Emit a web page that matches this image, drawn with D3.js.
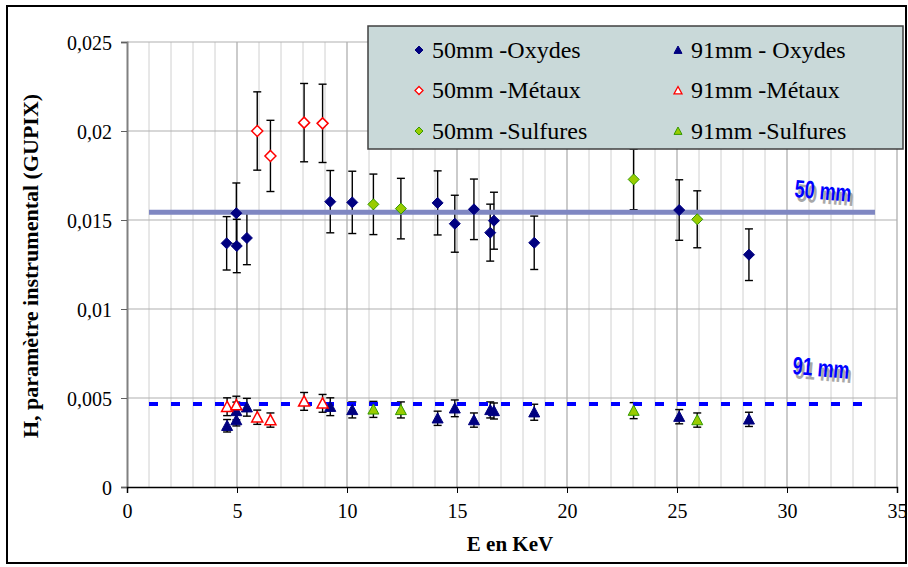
<!DOCTYPE html>
<html>
<head>
<meta charset="utf-8">
<script src="https://cdn.jsdelivr.net/npm/d3@7"></script>
</head>
<body style="margin:0">
<svg id="chart" width="908" height="567" font-family="Liberation Serif"></svg>
<script>
// ---------- data ----------
const xTicks = [0, 5, 10, 15, 20, 25, 30, 35];
const yTicks = [0, 0.005, 0.01, 0.015, 0.02, 0.025];
const yTickLabels = ["0", "0,005", "0,01", "0,015", "0,02", "0,025"];

const oxydes50E   = [4.53, 4.97, 4.99, 5.45, 9.24, 10.24, 14.12, 14.90, 15.77, 16.51, 16.68, 18.51, 25.10, 28.27];
const oxydes50H   = [0.01369, 0.01538, 0.01354, 0.01399, 0.01603, 0.01599, 0.01596, 0.01479, 0.01560, 0.01429, 0.01496, 0.01372, 0.01556, 0.01305];
const oxydes50Err = [0.0015, 0.0017, 0.0015, 0.0015, 0.00175, 0.00175, 0.0018, 0.0016, 0.0017, 0.0016, 0.0016, 0.0015, 0.0017, 0.00145];

const metaux50E   = [5.92, 6.52, 8.05, 8.89];
const metaux50H   = [0.02000, 0.01860, 0.02047, 0.02043];
const metaux50Err = [0.0022, 0.0020, 0.0022, 0.0022];

const sulf50E   = [11.20, 12.45, 23.03, 25.92];
const sulf50H   = [0.01588, 0.01564, 0.01728, 0.01504];
const sulf50Err = [0.0017, 0.0017, 0.0017, 0.0016];

const oxydes91E   = [4.55, 4.97, 4.97, 5.45, 9.24, 10.24, 14.12, 14.90, 15.77, 16.51, 16.68, 18.51, 25.10, 28.27];
const oxydes91H   = [0.00344, 0.00376, 0.00427, 0.00448, 0.00451, 0.00433, 0.00386, 0.00442, 0.00376, 0.00433, 0.00427, 0.00420, 0.00395, 0.00380];
const oxydes91Err = [0.00035, 0.00033, 0.0005, 0.0005, 0.0005, 0.00045, 0.0004, 0.00047, 0.0004, 0.00045, 0.00045, 0.00045, 0.0004, 0.0004];

const metaux91E   = [4.55, 4.97, 5.92, 6.52, 8.05, 8.89];
const metaux91H   = [0.00451, 0.00460, 0.00392, 0.00376, 0.00481, 0.00470];
const metaux91Err = [0.0005, 0.0005, 0.0004, 0.0004, 0.0005, 0.0005];

const sulf91E   = [11.20, 12.45, 23.03, 25.92];
const sulf91H   = [0.00436, 0.00433, 0.00429, 0.00376];
const sulf91Err = [0.00045, 0.00045, 0.00045, 0.0004];

const line50 = { label: "50 mm", value: 0.01543, from: 1, to: 34 };
const line91 = { label: "91 mm", value: 0.00466, from: 1, to: 34 };

const legendLabels = ["50mm -Oxydes", "50mm -Métaux", "50mm -Sulfures", "91mm - Oxydes", "91mm -Métaux", "91mm -Sulfures"];

// ---------- setup ----------
const svg = d3.select("#chart");
const x = d3.scaleLinear().domain([0, 35]).range([127, 897]);
const y = d3.scaleLinear().domain([0, 0.025]).range([487, 42]);
const SERIF = "Liberation Serif";
const SANS = "Liberation Sans";

// outer border
svg.append("rect").attr("x", 7).attr("y", 6).attr("width", 899).attr("height", 557)
  .attr("fill", "#fff").attr("stroke", "#000").attr("stroke-width", 2);

// vertical grid (every 1 keV, darker every 5)
const g = svg.append("g");
g.selectAll("line.vg").data(d3.range(1, 36)).join("line")
  .attr("x1", d => x(d)).attr("x2", d => x(d))
  .attr("y1", y(0.025)).attr("y2", y(0))
  .attr("stroke", d => d % 5 === 0 ? "#a8a8a8" : "#d0d0d0")
  .attr("stroke-width", d => d % 5 === 0 ? 1.2 : 1);

// horizontal grid
g.selectAll("line.hg").data(yTicks.slice(1)).join("line")
  .attr("x1", x(0)).attr("x2", x(35))
  .attr("y1", d => y(d)).attr("y2", d => y(d))
  .attr("stroke", "#b0b0b0").attr("stroke-width", 1.2);

// y axis
const yAxis = d3.axisLeft(y).tickValues(yTicks).tickSize(6).tickFormat((d, i) => yTickLabels[i]);
const ya = svg.append("g").attr("transform", `translate(${x(0)},0)`).call(yAxis);
ya.attr("font-family", SERIF).attr("font-size", 20);
ya.select(".domain").attr("stroke", "#808080").attr("stroke-width", 2);
ya.selectAll(".tick line").attr("stroke", "#606060");
ya.selectAll(".tick text").attr("font-family", SERIF).attr("font-size", 20)
  .attr("fill", "#000").attr("x", -15).attr("dy", "0.35em");

// x axis
const xAxis = d3.axisBottom(x).tickValues(xTicks).tickSize(6).tickFormat(d3.format("d"));
const xa = svg.append("g").attr("transform", `translate(0,${y(0)})`).call(xAxis);
xa.attr("font-family", SERIF).attr("font-size", 20);
xa.select(".domain").attr("stroke", "#000").attr("stroke-width", 1.5);
xa.selectAll(".tick line").attr("stroke", "#000");
xa.selectAll(".tick text").attr("font-family", SERIF).attr("font-size", 20)
  .attr("fill", "#000").attr("y", 24).attr("dy", "0.35em");

// axis titles
svg.append("text").attr("x", 510).attr("y", 551).attr("text-anchor", "middle")
  .attr("font-family", SERIF).attr("font-weight", "bold").attr("font-size", 21)
  .text("E en KeV");
svg.append("text").attr("transform", "translate(38,266) rotate(-90)").attr("text-anchor", "middle")
  .attr("font-family", SERIF).attr("font-weight", "bold").attr("font-size", 22)
  .text("H, paramètre instrumental (GUPIX)");

// ---------- series ----------
function pts(E, H, Err) { return E.map((e, i) => ({ e, h: H[i], err: Err[i] })); }
const series = [
  { data: pts(oxydes50E, oxydes50H, oxydes50Err), shape: "diamond", fill: "#000080", stroke: "#000080" },
  { data: pts(metaux50E, metaux50H, metaux50Err), shape: "diamond", fill: "#ffffff", stroke: "#ff0000" },
  { data: pts(sulf50E, sulf50H, sulf50Err), shape: "diamond", fill: "#99cc00", stroke: "#339900" },
  { data: pts(oxydes91E, oxydes91H, oxydes91Err), shape: "triangle", fill: "#000080", stroke: "#000080" },
  { data: pts(metaux91E, metaux91H, metaux91Err), shape: "triangle", fill: "#ffffff", stroke: "#ff0000" },
  { data: pts(sulf91E, sulf91H, sulf91Err), shape: "triangle", fill: "#99cc00", stroke: "#339900" }
];

function shapePath(shape, s) {
  if (shape === "diamond") return `M0,${-s}L${s},0L0,${s}L${-s},0Z`;
  return `M0,${-s}L${s},${s * 0.85}L${-s},${s * 0.85}Z`;
}

// error bars
const eb = svg.append("g");
series.forEach(sr => {
  sr.data.forEach(d => {
    const cx = x(d.e), y1 = y(d.h + d.err), y2 = y(d.h - d.err);
    eb.append("line").attr("x1", cx).attr("x2", cx).attr("y1", y1).attr("y2", y2)
      .attr("stroke", "#000").attr("stroke-width", 1.4);
    [y1, y2].forEach(yy => eb.append("line").attr("x1", cx - 4).attr("x2", cx + 4)
      .attr("y1", yy).attr("y2", yy).attr("stroke", "#000").attr("stroke-width", 1.4));
  });
});

// reference lines
svg.append("line").attr("x1", x(line50.from)).attr("x2", x(line50.to))
  .attr("y1", y(line50.value)).attr("y2", y(line50.value))
  .attr("stroke", "#7f87c2").attr("stroke-width", 5);
svg.append("line").attr("x1", x(line91.from)).attr("x2", x(line91.to))
  .attr("y1", y(line91.value)).attr("y2", y(line91.value))
  .attr("stroke", "#0000ff").attr("stroke-width", 4).attr("stroke-dasharray", "9,13");

// markers
const mk = svg.append("g");
series.forEach(sr => {
  mk.selectAll(null).data(sr.data).join("path")
    .attr("transform", d => `translate(${x(d.e)},${y(d.h)})`)
    .attr("d", shapePath(sr.shape, 5.5))
    .attr("fill", sr.fill).attr("stroke", sr.stroke)
    .attr("stroke-width", sr.fill === "#ffffff" ? 1.5 : 1);
});

// annotations
function annot(label, ax, ay) {
  const grp = svg.append("g").attr("transform", `translate(${ax},${ay}) rotate(5) scale(0.72,1)`);
  grp.append("text").attr("x", 4).attr("y", 4).attr("font-family", SANS)
    .attr("font-weight", "bold").attr("font-size", 25).attr("fill", "#a8a8a8").text(label);
  grp.append("text").attr("x", 0).attr("y", 0).attr("font-family", SANS)
    .attr("font-weight", "bold").attr("font-size", 25).attr("fill", "#0000ff").text(label);
}
annot(line50.label, 794, 197);
annot(line91.label, 792, 374);

// legend
const lg = svg.append("g");
lg.append("rect").attr("x", 368).attr("y", 26).attr("width", 535).attr("height", 123)
  .attr("fill", "#c9d9d9").attr("stroke", "#404040").attr("stroke-width", 1.5);
const rowsY = [50, 90.5, 131];
const colsX = [419, 678];
series.forEach((sr, i) => {
  const col = Math.floor(i / 3), row = i % 3;
  lg.append("path").attr("transform", `translate(${colsX[col]},${rowsY[row]})`)
    .attr("d", shapePath(sr.shape, 4))
    .attr("fill", sr.fill).attr("stroke", sr.stroke).attr("stroke-width", sr.fill === "#ffffff" ? 1.3 : 1);
  lg.append("text").attr("x", colsX[col] + 13).attr("y", rowsY[row] + 7.5)
    .attr("font-family", SERIF).attr("font-size", 24).attr("fill", "#000")
    .text(legendLabels[i]);
});
</script>
</body>
</html>
